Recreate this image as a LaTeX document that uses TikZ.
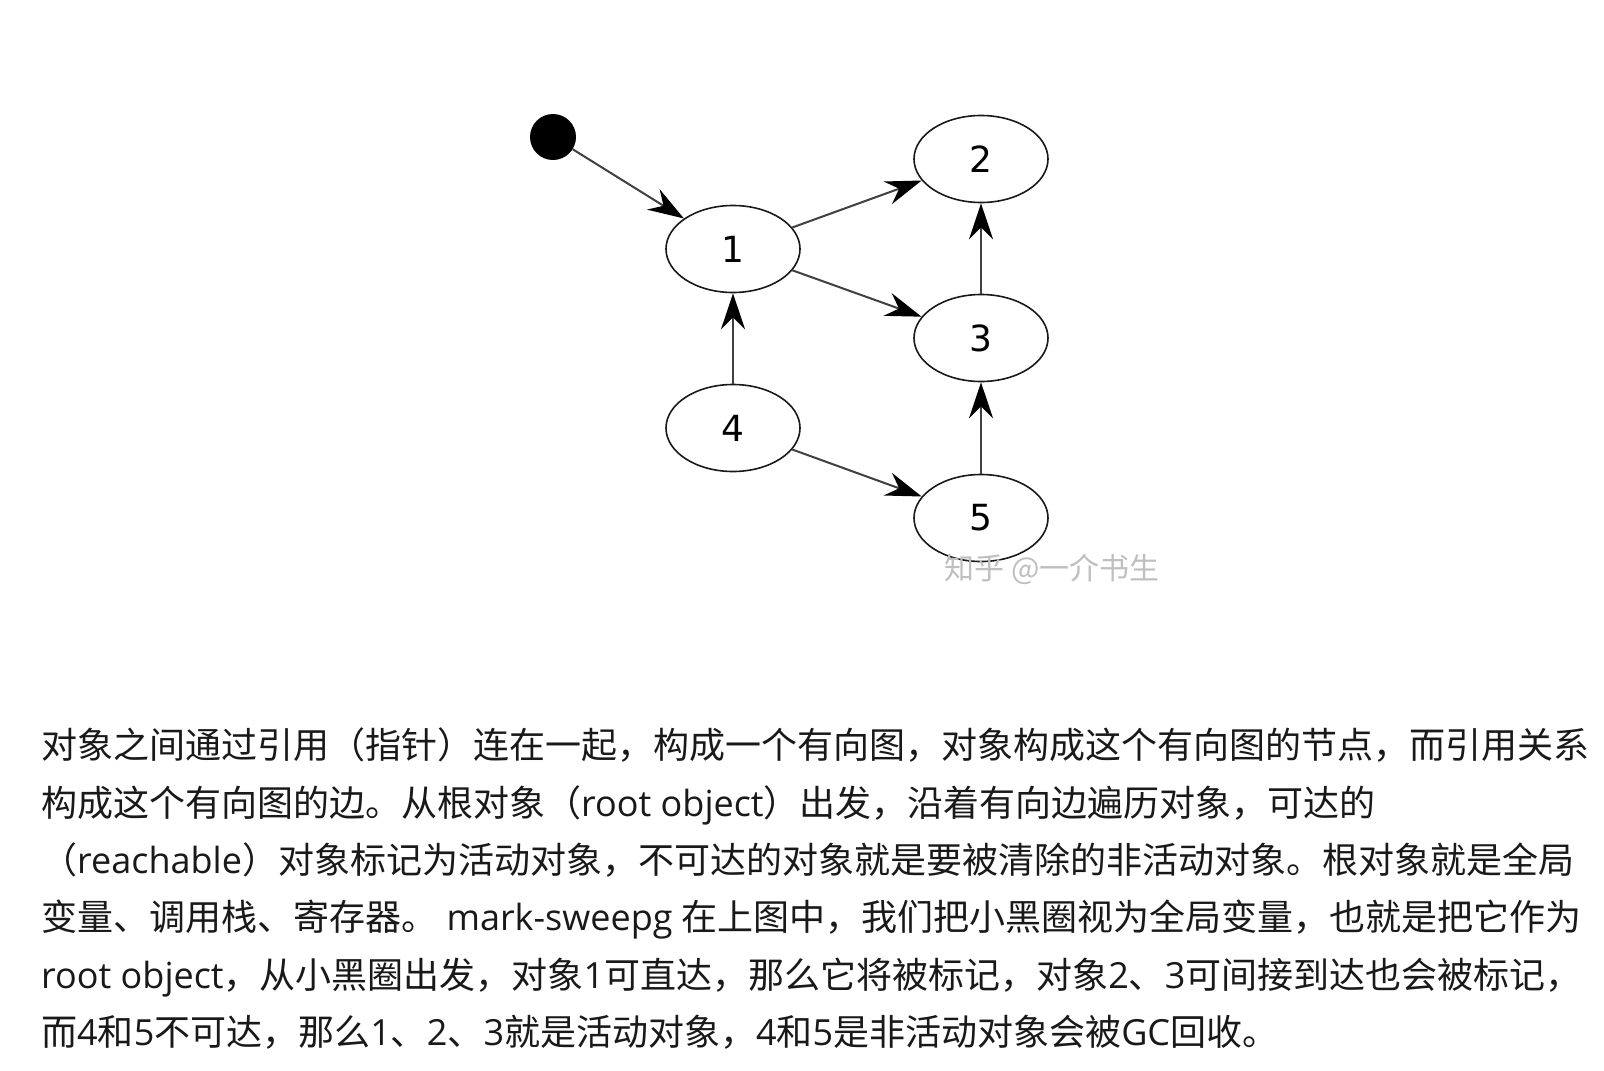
\documentclass[tikz,border=0pt]{standalone}
\usepackage{fontspec}
\setmainfont{Noto Sans CJK SC}
\newfontfamily\latfont{Open Sans}
\newfontfamily\digitfont{DejaVu Sans}
\usetikzlibrary{shapes.geometric,arrows.meta}
\newcommand{\lat}[1]{{\latfont #1}}

\begin{document}
\begin{tikzpicture}[x=1pt,y=-1pt,
  obj/.style={ellipse,draw=black!90,line width=1.6pt,fill=white,
    minimum width=134pt,minimum height=87pt,inner sep=0pt,
    font=\digitfont\fontsize{36}{36}\selectfont},
  rootdot/.style={circle,fill=black,minimum size=46pt,inner sep=0pt},
  ref/.style={draw=black!75,line width=2pt,
    -{Stealth[length=36pt,width=24pt,inset=12pt,color=black]}},
  para/.style={anchor=base west,inner sep=0pt,
    font=\fontsize{36}{43}\selectfont,text=black!90},
  wmark/.style={font=\fontsize{30}{30}\selectfont,text=black!25}
]
% page and background
\useasboundingbox (0,0) rectangle (1604,1071);
\fill[white] (0,0) rectangle (1604,1071);

% object graph
\node[rootdot] (root) at (553,137) {};
\node[obj] (n1) at (733,249) {1};
\node[obj] (n2) at (981,159) {2};
\node[obj] (n3) at (981,338) {3};
\node[obj] (n4) at (733,428) {4};
\node[obj] (n5) at (981,518) {5};

\draw[ref] (root) -- (n1);
\draw[ref] (n1) -- (n2);
\draw[ref] (n1) -- (n3);
\draw[ref] (n3) -- (n2);
\draw[ref] (n4) -- (n1);
\draw[ref] (n4) -- (n5);
\draw[ref] (n5) -- (n3);

% watermark
\node[wmark] (wm) at (1052,569) {知乎 @一介书生};

% explanation paragraph
\node[para] (l1) at (41,758) {对象之间通过引用（指针）连在一起，构成一个有向图，对象构成这个有向图的节点，而引用关系};
\node[para] (l2) at (41,816) {构成这个有向图的边。从根对象（\lat{root object}）出发，沿着有向边遍历对象，可达的};
\node[para] (l3) at (41,873) {（\lat{reachable}）对象标记为活动对象，不可达的对象就是要被清除的非活动对象。根对象就是全局};
\node[para] (l4) at (41,930) {变量、调用栈、寄存器。\lat{\ mark-sweepg\ }在上图中，我们把小黑圈视为全局变量，也就是把它作为};
\node[para] (l5) at (41,988) {\lat{root object}，从小黑圈出发，对象\lat{1}可直达，那么它将被标记，对象\lat{2}、\lat{3}可间接到达也会被标记，};
\node[para] (l6) at (41,1045) {而\lat{4}和\lat{5}不可达，那么\lat{1}、\lat{2}、\lat{3}就是活动对象，\lat{4}和\lat{5}是非活动对象会被\lat{GC}回收。};
\end{tikzpicture}
\end{document}
